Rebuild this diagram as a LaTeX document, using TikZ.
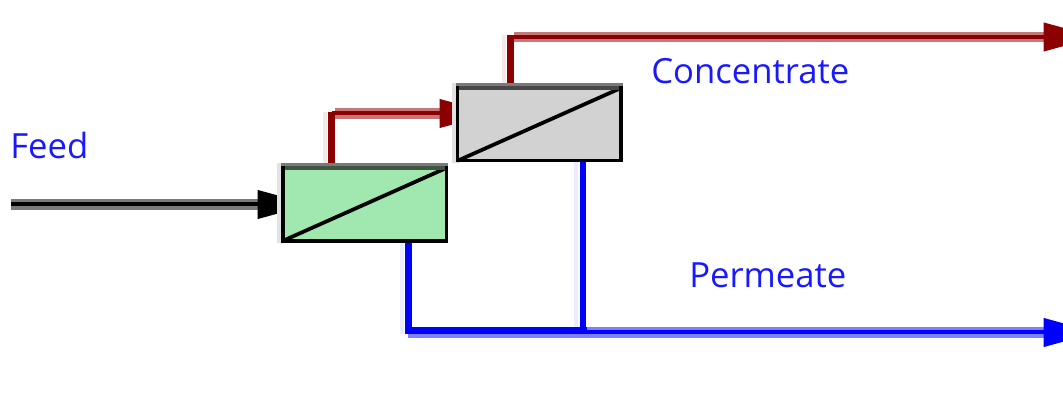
\documentclass[tikz,border=0pt]{standalone}
\usepackage{fontspec}
\setmainfont{Open Sans}
\usetikzlibrary{arrows.meta}
\definecolor{conc}{RGB}{139,0,0}
\definecolor{conchalo}{RGB}{198,120,120}
\definecolor{concpale}{RGB}{246,232,232}
\definecolor{perm}{RGB}{0,0,255}
\definecolor{permhalo}{RGB}{128,128,255}
\definecolor{permpale}{RGB}{236,236,255}
\definecolor{labelblue}{RGB}{25,25,255}
\definecolor{greenfill}{RGB}{160,232,176}
\definecolor{grayfill}{RGB}{210,210,210}
\definecolor{boxpale}{RGB}{226,226,226}
\definecolor{bandgray}{RGB}{122,122,122}
\definecolor{banddarkgreen}{RGB}{62,86,66}
\definecolor{banddarkgray}{RGB}{72,72,72}
\tikzset{x=0.75pt,y=-0.75pt,
 boxline/.style={draw=black,line width=2.6pt},
 diagline/.style={draw=black,line width=2.8pt},
 topband/.style={line width=2.6pt,line cap=butt},
 headtip/.style={-{Triangle[length=40pt,width=21pt]}},
 thick flow/.style={line width=5pt,line cap=butt},
 halo/.style={line width=8pt,line cap=butt},
 core/.style={line width=3pt,line cap=butt},
 pale/.style={line width=3pt,line cap=butt},
 lab/.style={text=labelblue,font=\fontsize{26}{28}\selectfont,inner sep=0pt}}
\begin{document}
\begin{tikzpicture}
\useasboundingbox (0,0) rectangle (1063,402);
% module corners
\coordinate (m1nw) at (283,168);
\coordinate (m1se) at (446.3,240.8);
\coordinate (m2nw) at (457.7,88);
\coordinate (m2se) at (621,160.7);
% feed
\coordinate (feedstart) at (11,204.5);
\coordinate (feedbase) at (258,204.5);
\coordinate (feedtip) at (311,204.5);
% first concentrate stream
\coordinate (c1b) at (331.5,166);
\coordinate (c1t) at (331.5,112);
\coordinate (c1h) at (335,113.5);
\coordinate (c1base) at (440,113.5);
\coordinate (c1tip) at (493,113.5);
% second concentrate stream
\coordinate (c2b) at (510.7,86);
\coordinate (c2t) at (510.7,35);
\coordinate (c2h) at (514,37);
\coordinate (c2base) at (1044,37);
\coordinate (c2tip) at (1097,37);
% permeate
\coordinate (p1t) at (408.5,241);
\coordinate (p1b) at (408.5,334);
\coordinate (p2t) at (583,161);
\coordinate (p2b) at (583,334);
\coordinate (pl) at (405,330.5);
\coordinate (pr) at (587,330.5);
\coordinate (pll) at (408,336);
\coordinate (prl) at (587,336);
\coordinate (ph) at (587,332.5);
\coordinate (pbase) at (1044,332.5);
\coordinate (ptip) at (1097,332.5);
% pale fringes
\draw[pale,draw=concpale] ([xshift=-5pt]c1b) -- ([xshift=-5pt]c1t);
\draw[pale,draw=concpale] ([xshift=-5pt]c2b) -- ([xshift=-5pt]c2t);
\draw[pale,draw=permpale] ([xshift=-5pt]p1t) -- ([xshift=-5pt]p1b);
\draw[pale,draw=permpale] ([xshift=-5pt]p2t) -- ([xshift=-5pt]p2b);
% feed line
\draw[halo,draw=bandgray] (feedstart) -- (feedbase);
\draw[core,draw=black,headtip] (feedstart) -- (feedtip);
% concentrate lines
\draw[thick flow,draw=conc] (c1b) -- (c1t);
\draw[halo,draw=conchalo] (c1h) -- (c1base);
\draw[core,draw=conc,headtip] (c1t |- c1h) -- (c1tip);
\draw[thick flow,draw=conc] (c2b) -- (c2t);
\draw[halo,draw=conchalo] (c2h) -- (c2base);
\draw[core,draw=conc,headtip] (c2t |- c2h) -- (c2tip);
% permeate lines
\draw[thick flow,draw=perm] (p1t) -- (p1b);
\draw[thick flow,draw=perm] (p2t) -- (p2b);
\draw[line width=3pt,line cap=butt,draw=permhalo] (pll) -- (prl);
\draw[thick flow,draw=perm] (pl) -- (pr);
\draw[halo,draw=permhalo] (ph) -- (pbase);
\draw[core,draw=perm,headtip] (ph) -- (ptip);
% modules
\fill[boxpale] (277,163.3) rectangle (283,242.7);
\fill[boxpale] (452,83.3) rectangle (458,162.7);
\draw[boxline,fill=greenfill] (m1nw) rectangle (m1se);
\draw[boxline,fill=grayfill] (m2nw) rectangle (m2se);
\draw[diagline] (m1nw |- m1se) -- (m1se |- m1nw);
\draw[diagline] (m2nw |- m2se) -- (m2se |- m2nw);
\draw[topband,draw=bandgray] (281.3,164.7) -- (448,164.7);
\draw[topband,draw=banddarkgreen] (285,168) -- (444.6,168);
\draw[topband,draw=bandgray] (456,84.7) -- (622.7,84.7);
\draw[topband,draw=banddarkgray] (459.4,88) -- (619.3,88);
% labels
\node[lab,anchor=west] (feed) at (10,146) {Feed};
\node[lab,anchor=west] (conctext) at (651,71) {Concentrate};
\node[lab,anchor=west] (permtext) at (689,275) {Permeate};
\end{tikzpicture}
\end{document}
